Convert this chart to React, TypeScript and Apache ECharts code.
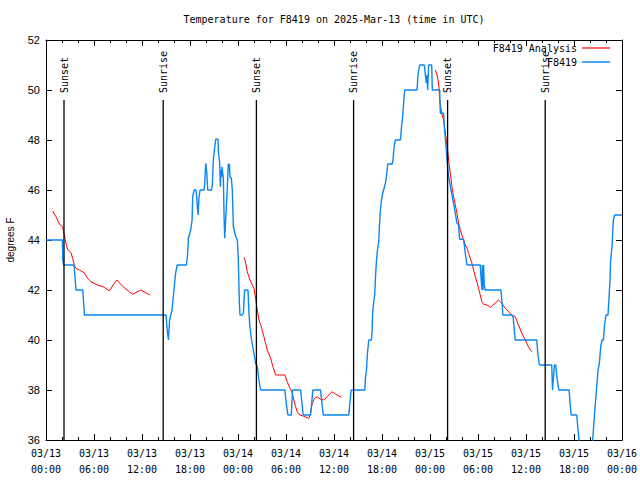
import React, { useEffect, useRef } from "react";
import * as echarts from "echarts";

// Hours after 2025-03-13 00:00 UTC
const xTickLabels = [
  "03/13\n00:00", "03/13\n06:00", "03/13\n12:00", "03/13\n18:00",
  "03/14\n00:00", "03/14\n06:00", "03/14\n12:00", "03/14\n18:00",
  "03/15\n00:00", "03/15\n06:00", "03/15\n12:00", "03/15\n18:00",
  "03/16\n00:00",
];

const eventTimes = [2.25, 14.65, 26.3, 38.45, 50.2, 62.4];
const eventNames = ["Sunset", "Sunrise", "Sunset", "Sunrise", "Sunset", "Sunrise"];

const analysisDay13 = [
  [0.83, 45.16], [1.25, 44.93], [1.66, 44.64], [2.08, 44.53], [2.2, 44.33], [2.37, 44.07],
  [2.5, 43.87], [2.7, 43.63], [3.12, 43.49], [3.33, 43.27], [3.54, 43.0], [3.74, 42.87],
  [4.16, 42.8], [4.78, 42.69], [5.2, 42.47], [5.62, 42.33], [6.45, 42.2], [7.28, 42.11],
  [7.9, 41.97], [8.11, 42.05], [8.53, 42.27], [8.86, 42.4], [9.57, 42.15], [10.4, 41.93],
  [10.81, 41.83], [11.85, 42.0], [12.69, 41.85], [13.02, 41.8],
];

const analysisDay14 = [
  [24.75, 43.31], [24.96, 43.07], [25.16, 42.73], [25.5, 42.4], [25.79, 42.2], [26.0, 42.07],
  [26.2, 41.67], [26.41, 41.2], [26.62, 40.8], [26.91, 40.53], [27.24, 40.13], [27.66, 39.6],
  [28.08, 39.27], [28.37, 38.93], [28.7, 38.6], [29.86, 38.6], [30.16, 38.33], [30.49, 38.07],
  [30.78, 37.87], [30.99, 37.6], [31.2, 37.33], [31.4, 37.13], [31.74, 37.0], [32.23, 36.95],
  [32.65, 36.89], [32.86, 36.87], [33.07, 37.07], [33.28, 37.47], [33.57, 37.67], [33.9, 37.73],
  [34.31, 37.63], [34.73, 37.6], [35.15, 37.73], [35.56, 37.87], [35.77, 37.93], [36.19, 37.84],
  [36.61, 37.76], [36.89, 37.71],
];

const analysisDay15 = [
  [48.67, 50.8], [48.87, 50.6], [49.0, 50.4], [49.12, 50.13], [49.21, 49.6], [49.37, 49.27],
  [49.5, 49.0], [49.71, 48.8], [49.87, 48.4], [50.04, 48.0], [50.2, 47.6], [50.37, 47.07],
  [50.54, 46.67], [50.74, 46.13], [50.95, 45.73], [51.16, 45.4], [51.37, 45.07], [51.58, 44.67],
  [51.78, 44.4], [51.99, 44.2], [52.2, 44.0], [52.41, 43.8], [52.62, 43.67], [52.82, 43.47],
  [53.03, 43.27], [53.24, 43.07], [53.45, 42.8], [53.66, 42.53], [53.86, 42.33], [54.07, 42.07],
  [54.28, 41.8], [54.49, 41.53], [54.7, 41.43], [55.11, 41.4], [55.53, 41.31], [56.15, 41.47],
  [56.57, 41.6], [56.98, 41.47], [57.4, 41.27], [58.23, 41.0], [58.65, 40.93], [59.06, 40.6],
  [59.48, 40.27], [59.9, 40.0], [60.31, 39.73], [60.73, 39.53],
];

const observed = [
  [0, 44], [2.05, 44], [2.1, 43.2], [2.2, 43], [3.5, 43], [3.6, 42.6], [3.75, 42], [4.6, 42],
  [4.8, 41], [15.0, 41], [15.15, 40.4], [15.3, 40], [15.45, 40.8], [15.6, 41], [15.75, 41.2],
  [15.9, 41.7], [16.0, 42], [16.2, 42.67], [16.4, 43], [17.55, 43], [17.68, 43.33], [17.8, 44.07],
  [18.09, 44.4], [18.26, 44.8], [18.34, 45.73], [18.51, 46], [18.76, 46], [18.93, 45.3],
  [19.01, 45], [19.13, 45.73], [19.26, 46], [19.76, 46], [19.84, 46.27], [19.97, 47.07],
  [20.09, 46.73], [20.17, 46.27], [20.21, 46], [20.71, 46], [20.8, 46.27], [20.92, 47.23],
  [21.21, 48.03], [21.5, 48.03], [21.55, 47.53], [21.71, 47.07], [21.8, 46.13], [21.88, 46.8],
  [21.96, 46.53], [22.0, 46.93], [22.17, 46.47], [22.25, 45.07], [22.34, 44.07], [22.46, 44.8],
  [22.67, 46.13], [22.79, 47.03], [22.92, 47.03], [23.0, 46.53], [23.17, 46.47], [23.29, 46.0],
  [23.42, 44.53], [23.71, 44.13], [23.92, 44.0], [24.04, 43.2], [24.17, 41.47], [24.25, 41],
  [24.54, 41], [24.67, 41.07], [24.83, 42], [25.25, 42], [25.37, 41.07], [25.5, 40.47],
  [25.7, 40], [25.91, 39.6], [26.2, 39.07], [26.41, 38.93], [26.62, 38.4], [26.83, 38],
  [29.86, 38], [30.03, 37.47], [30.24, 37], [30.66, 37], [30.82, 38], [31.82, 38], [32.15, 37],
  [33.07, 37], [33.36, 38], [34.31, 38], [34.65, 37], [37.85, 37], [38.14, 38], [39.85, 38],
  [39.93, 38.47], [40.06, 38.8], [40.18, 39.47], [40.35, 40], [40.68, 40], [40.76, 40.4],
  [40.84, 41.13], [40.97, 41.53], [41.09, 41.8], [41.18, 42.47], [41.3, 43.13], [41.43, 43.6],
  [41.59, 43.93], [41.68, 44.53], [41.8, 45.2], [41.93, 45.6], [42.09, 45.87], [42.26, 46.07],
  [42.43, 46.27], [42.55, 46.53], [42.72, 47.04], [43.26, 47.04], [43.38, 47.2], [43.47, 47.6],
  [43.55, 47.8], [43.67, 48], [44.3, 48], [44.42, 48.47], [44.55, 48.8], [44.71, 49.53],
  [44.84, 50], [46.38, 50], [46.5, 50.6], [46.71, 51], [47.29, 51], [47.42, 50.6], [47.54, 50.27],
  [47.63, 50.6], [47.71, 50], [47.83, 51], [48.21, 51], [48.29, 50], [49.21, 50], [49.29, 49.07],
  [49.7, 49.07], [49.79, 48.53], [50.04, 47.6], [50.21, 46.87], [50.33, 46.53], [50.62, 46],
  [50.95, 45.47], [51.16, 45.07], [51.37, 44.67], [51.58, 44.6], [51.7, 44.03], [52.2, 44.03],
  [52.41, 43.47], [52.62, 43], [54.28, 43], [54.4, 42.4], [54.49, 42], [54.55, 43], [54.61, 42],
  [54.7, 43], [54.78, 42.2], [54.9, 42], [56.86, 42], [56.98, 41.6], [57.11, 41], [58.23, 41],
  [58.4, 40.9], [58.65, 40], [61.35, 40], [61.47, 39.47], [61.68, 39], [63.22, 39], [63.31, 38],
  [63.43, 38.47], [63.56, 39], [63.72, 39], [63.85, 38.53], [64.1, 38], [65.39, 38],
  [65.51, 37.47], [65.64, 37], [66.34, 37], [66.47, 36.53], [66.63, 36], [66.8, 35.5],
  [68.2, 35.5], [68.34, 36], [68.51, 36.8], [68.67, 37.47], [68.84, 38.13], [69.0, 38.8],
  [69.17, 39.07], [69.34, 39.73], [69.5, 40], [69.67, 40], [69.84, 40.67], [70.0, 41],
  [70.25, 41], [70.34, 41.47], [70.51, 42.47], [70.58, 43.2], [70.75, 43.73], [70.92, 44.8],
  [71.09, 45], [72, 45],
];

const MONO = '"DejaVu Sans Mono", "Liberation Mono", monospace';
const SANS = '"Liberation Sans", Arial, sans-serif';

export default function App() {
  const ref = useRef<HTMLDivElement>(null);
  useEffect(() => {
    if (!ref.current) return;
    const chart = echarts.init(ref.current, null, { renderer: "svg" });
    const analysis: any[] = [
      ...analysisDay13,
      [18, "-"],
      ...analysisDay14,
      [42, "-"],
      ...analysisDay15,
    ];
    const xAxisBase = {
      type: "value",
      min: 0,
      max: 72,
      interval: 6,
      axisLine: { show: true, onZero: false, lineStyle: { color: "#000", width: 1 } },
      axisTick: { show: true, inside: true, length: 6, lineStyle: { color: "#000" } },
      minorTick: { show: true, splitNumber: 3, length: 3, lineStyle: { color: "#000" } },
      splitLine: { show: false },
      minorSplitLine: { show: false },
    };
    const yAxisBase = {
      type: "value",
      min: 36,
      max: 52,
      interval: 2,
      axisLine: { show: true, onZero: false, lineStyle: { color: "#000", width: 1 } },
      axisTick: { show: true, inside: true, length: 6, lineStyle: { color: "#000" } },
      splitLine: { show: false },
    };
    const legendBase = {
      right: 30,
      align: "right",
      orient: "vertical",
      icon: "rect",
      itemWidth: 28,
      padding: 0,
      textStyle: { fontFamily: MONO, fontSize: 10, color: "#000" },
      selectedMode: false,
    };
    chart.setOption({
      animation: false,
      backgroundColor: "#fff",
      grid: {
        left: 46,
        right: 18,
        top: 40,
        bottom: 40,
        containLabel: false,
        outerBoundsMode: "none",
      },
      graphic: [
        {
          type: "text",
          x: 334,
          y: 19,
          style: {
            text: "Temperature for F8419 on 2025-Mar-13 (time in UTC)",
            font: `10px ${MONO}`,
            fill: "#000",
            align: "center",
            verticalAlign: "middle",
            textAlign: "center",
            textVerticalAlign: "middle",
          },
        },
      ],
      legend: [
        { ...legendBase, data: ["F8419 Analysis"], top: 43, itemHeight: 1.2 },
        { ...legendBase, data: ["F8419"], top: 57, itemHeight: 1.5 },
      ],
      xAxis: [
        {
          ...xAxisBase,
          position: "bottom",
          axisLabel: {
            show: true,
            formatter: (v: number) => xTickLabels[Math.round(v / 6)] ?? "",
            fontFamily: MONO,
            fontSize: 10,
            color: "#000",
            lineHeight: 16,
            margin: 5,
          },
        },
        { ...xAxisBase, position: "top", axisLabel: { show: false } },
      ],
      yAxis: [
        {
          ...yAxisBase,
          position: "left",
          axisLabel: { show: true, fontFamily: SANS, fontSize: 11, color: "#000", margin: 6 },
          name: "degrees F",
          nameLocation: "middle",
          nameGap: 31,
          nameRotate: 90,
          nameTextStyle: { fontFamily: SANS, fontSize: 10, color: "#000" },
        },
        { ...yAxisBase, position: "right", axisLabel: { show: false } },
      ],
      series: [
        {
          name: "F8419 Analysis",
          type: "line",
          data: analysis,
          showSymbol: false,
          symbol: "none",
          connectNulls: false,
          clip: true,
          color: "#ff0000",
          lineStyle: { color: "#ff0000", width: 1 },
          z: 2,
        },
        {
          name: "F8419",
          type: "line",
          data: observed,
          showSymbol: false,
          symbol: "none",
          clip: true,
          color: "#0a86f5",
          lineStyle: { color: "#0a86f5", width: 1.4 },
          z: 3,
        },
        {
          name: "events",
          type: "custom",
          data: eventTimes.map((t, i) => [t, 36, i]),
          z: 4,
          renderItem: (params: any, api: any) => {
            const t = api.value(0);
            const idx = api.value(2);
            const p0 = api.coord([t, 36]);
            const p1 = api.coord([t, 49.6]);
            return {
              type: "group",
              children: [
                {
                  type: "line",
                  shape: { x1: p0[0], y1: p0[1], x2: p1[0], y2: p1[1] },
                  style: { stroke: "#000", lineWidth: 1.3 },
                },
                {
                  type: "text",
                  x: p1[0],
                  y: p1[1] - 7,
                  rotation: Math.PI / 2,
                  style: {
                    text: eventNames[idx],
                    fill: "#000",
                    font: `10px ${MONO}`,
                    align: "left",
                    verticalAlign: "middle",
                    textAlign: "left",
                    textVerticalAlign: "middle",
                  },
                },
              ],
            };
          },
        },
      ],
    });
    return () => chart.dispose();
  }, []);
  return (
    <div
      ref={ref}
      style={{ position: "fixed", left: 0, top: 0, width: 640, height: 480 }}
    />
  );
}
